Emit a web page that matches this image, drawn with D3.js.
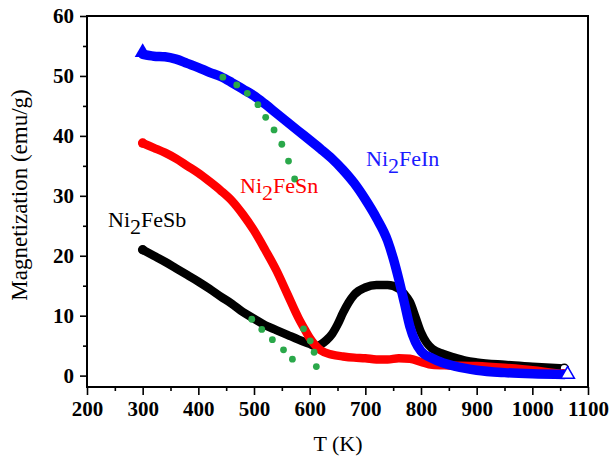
<!DOCTYPE html>
<html>
<head>
<meta charset="utf-8">
<script src="https://cdn.jsdelivr.net/npm/d3@7"></script>
<style>
  html, body { margin: 0; padding: 0; background: #fff; }
  svg { display: block; }
</style>
</head>
<body>
<div id="chart"></div>
<script>
// temperatures (K) and magnetization (emu/g)
const tempIn = [300, 320, 340, 360, 380, 400, 420, 440, 460, 480, 500, 520, 540, 560, 580, 600, 620, 640, 660, 680, 700, 720, 740, 750, 760, 770, 780, 790, 800, 820, 840, 860, 880, 900, 950, 1000, 1058];
const magIn = [53.6, 53.3, 53.2, 52.8, 52.1, 51.4, 50.6, 49.9, 48.9, 47.8, 46.7, 45.3, 43.8, 42.3, 40.8, 39.3, 37.8, 36.2, 34.3, 32.1, 29.4, 26.3, 22.5, 19.6, 16.1, 12.2, 8.2, 5.6, 4.1, 2.9, 2.1, 1.6, 1.2, 0.9, 0.5, 0.3, 0.2];

const tempSn = [300, 320, 340, 360, 380, 400, 420, 440, 460, 480, 500, 520, 540, 560, 580, 590, 600, 620, 640, 660, 680, 700, 720, 740, 760, 780, 800, 820, 850, 900, 950, 1000, 1050];
const magSn = [38.8, 38.0, 37.2, 36.2, 35.0, 33.8, 32.4, 30.9, 29.2, 26.9, 24.2, 21.0, 17.6, 13.6, 9.6, 7.9, 6.3, 4.2, 3.5, 3.2, 3.0, 2.9, 2.7, 2.7, 2.9, 2.8, 2.3, 1.8, 1.7, 1.6, 1.3, 0.9, 0.3];

const tempSb = [300, 320, 340, 360, 380, 400, 420, 440, 460, 480, 500, 520, 540, 560, 580, 600, 610, 620, 630, 640, 650, 660, 670, 680, 700, 720, 740, 760, 770, 780, 790, 800, 810, 820, 840, 860, 880, 900, 950, 1000, 1052];
const magSb = [21.0, 20.0, 19.0, 17.9, 16.8, 15.7, 14.5, 13.2, 12.0, 10.6, 9.5, 8.4, 7.6, 6.8, 6.0, 5.3, 4.9, 5.2, 5.9, 6.9, 8.5, 10.5, 12.2, 13.5, 14.7, 15.1, 15.1, 14.5, 13.6, 12.3, 9.8, 7.2, 5.5, 4.5, 3.6, 3.0, 2.5, 2.2, 1.8, 1.5, 1.2];

// green dotted guide points
const guideInT = [444, 469, 488, 507, 521, 536, 550, 562, 573];
const guideInM = [49.8, 48.5, 47.1, 45.2, 43.1, 41.0, 38.6, 35.8, 32.8];
const guideSbT = [496, 514, 533, 553, 569];
const guideSbM = [9.4, 7.7, 6.0, 4.3, 2.75];
const guideSnT = [589, 601, 608, 612];
const guideSnM = [7.8, 5.8, 3.9, 1.5];

const xTicks = [200, 300, 400, 500, 600, 700, 800, 900, 1000, 1100];
const yTicks = [0, 10, 20, 30, 40, 50, 60];

const width = 614;
const height = 461;
const plotLeft = 87, plotRight = 588, plotTop = 16, plotBottom = 387;
const serif = "'Liberation Serif', 'Times New Roman', 'DejaVu Serif', serif";

const svg = d3.select("#chart").append("svg")
  .attr("width", width)
  .attr("height", height)
  .attr("font-family", serif);

const x = d3.scaleLinear().domain([200, 1100]).range([plotLeft, plotRight]);
const y = d3.scaleLinear().domain([-1.9, 60]).range([plotBottom, plotTop]);

const zip = (ts, ms) => ts.map((t, i) => [t, ms[i]]);

const line = d3.line()
  .x((d) => x(d[0]))
  .y((d) => y(d[1]))
  .curve(d3.curveMonotoneX);

const series = [
  { data: zip(tempSb, magSb), color: "#000000", w: 8.5, sym: d3.symbolCircle },
  { data: zip(tempSn, magSn), color: "#ff0000", w: 8.5, sym: d3.symbolCircle },
  { data: zip(tempIn, magIn), color: "#0000ff", w: 9.5, sym: d3.symbolTriangle }
];

series.forEach((s) => {
  svg.append("path")
    .attr("d", line(s.data))
    .attr("fill", "none")
    .attr("stroke", s.color)
    .attr("stroke-width", s.w)
    .attr("stroke-linecap", "round")
    .attr("stroke-linejoin", "round");

  const isTri = s.sym === d3.symbolTriangle;
  const first = s.data[0];
  const last = s.data[s.data.length - 1];
  svg.append("path")
    .attr("d", d3.symbol().type(s.sym).size(isTri ? 110 : 70)())
    .attr("transform", `translate(${x(first[0])},${y(first[1]) - (isTri ? 2 : 0)})`)
    .attr("fill", s.color);
  svg.append("path")
    .attr("d", d3.symbol().type(s.sym).size(isTri ? 80 : 55)())
    .attr("transform", `translate(${x(last[0]) + 3},${y(last[1])})`)
    .attr("fill", "#fff")
    .attr("stroke", s.color)
    .attr("stroke-width", 1.5);
});

// green guide dots
const guides = [zip(guideInT, guideInM), zip(guideSbT, guideSbM), zip(guideSnT, guideSnM)];
guides.forEach((g) => {
  svg.append("g").selectAll("circle")
    .data(g)
    .enter()
    .append("circle")
    .attr("cx", (d) => x(d[0]))
    .attr("cy", (d) => y(d[1]))
    .attr("r", 3.4)
    .attr("fill", "#2aa84a");
});

// axes
const fmt = d3.format("d");
svg.append("g")
  .attr("transform", `translate(0,${plotBottom})`)
  .call(d3.axisBottom(x).tickValues(xTicks).tickSize(8).tickPadding(6).tickFormat(fmt));
svg.append("g")
  .attr("transform", `translate(0,${plotBottom})`)
  .call(d3.axisBottom(x).tickValues(d3.range(250, 1100, 100)).tickSize(4).tickFormat(""));

svg.append("g")
  .attr("transform", `translate(${plotLeft},0)`)
  .call(d3.axisLeft(y).tickValues(yTicks).tickSize(7).tickPadding(6).tickFormat(fmt));
svg.append("g")
  .attr("transform", `translate(${plotLeft},0)`)
  .call(d3.axisLeft(y).tickValues(d3.range(5, 60, 10)).tickSize(4).tickFormat(""));

svg.selectAll("g").attr("font-family", serif);
svg.selectAll(".domain").remove();
svg.selectAll(".tick line").attr("stroke", "#000").attr("stroke-width", 1.6);
svg.selectAll(".tick text")
  .attr("fill", "#000")
  .attr("font-weight", "bold")
  .attr("font-size", 21);

svg.append("rect")
  .attr("x", plotLeft)
  .attr("y", plotTop)
  .attr("width", plotRight - plotLeft)
  .attr("height", plotBottom - plotTop)
  .attr("fill", "none")
  .attr("stroke", "#000")
  .attr("stroke-width", 2);

// axis titles
svg.append("text")
  .attr("x", 338)
  .attr("y", 451)
  .attr("text-anchor", "middle")
  .attr("font-size", 22)
  .text("T (K)");

svg.append("text")
  .attr("transform", "translate(27,195) rotate(-90)")
  .attr("text-anchor", "middle")
  .attr("font-size", 23)
  .text("Magnetization (emu/g)");

// series labels with lowered "2"
const labels = [
  { pre: "Ni", sub: "2", post: "FeSb", x: 108, y: 227, color: "#000000" },
  { pre: "Ni", sub: "2", post: "FeSn", x: 240, y: 193, color: "#ff0000" },
  { pre: "Ni", sub: "2", post: "FeIn", x: 366, y: 166, color: "#1a1aff" }
];
labels.forEach((l) => {
  const t = svg.append("text")
    .attr("x", l.x)
    .attr("y", l.y)
    .attr("fill", l.color)
    .attr("font-size", 22);
  t.append("tspan").text(l.pre);
  t.append("tspan").attr("dy", 7).text(l.sub);
  t.append("tspan").attr("dy", -7).text(l.post);
});
</script>
</body>
</html>
